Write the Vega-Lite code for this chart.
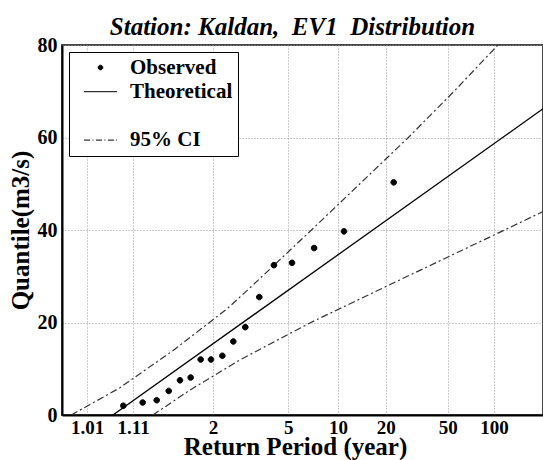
{
  "$schema": "https://vega.github.io/schema/vega-lite/v6.json",
  "autosize": {"type": "none"},
  "padding": {"left": 62, "top": 45, "right": 0, "bottom": 45},
  "width": 481,
  "height": 370,
  "background": "white",
  "title": {
    "text": "Station: Kaldan,\u00a0 EV1\u00a0 Distribution",
    "font": "Liberation Serif",
    "fontSize": 25,
    "fontWeight": "bold",
    "fontStyle": "italic",
    "color": "black",
    "anchor": "middle",
    "baseline": "bottom",
    "offset": 4,
    "dx": -10,
    "dy": 34
  },
  "config": {
    "view": {"stroke": "#444", "strokeWidth": 2},
    "axis": {
      "labelFont": "Liberation Serif",
      "labelFontWeight": "bold",
      "labelColor": "black",
      "titleFont": "Liberation Serif",
      "titleFontWeight": "bold",
      "titleColor": "black",
      "domainColor": "black",
      "domainWidth": 2,
      "ticks": false,
      "gridColor": "#999",
      "gridDash": [1, 2],
      "gridWidth": 1
    }
  },
  "data": {
    "values": [
      {"kind": "Observed", "rv": -0.985, "q": 2.0},
      {"kind": "Observed", "rv": -0.693, "q": 2.7},
      {"kind": "Observed", "rv": -0.482, "q": 3.2},
      {"kind": "Observed", "rv": -0.301, "q": 5.2},
      {"kind": "Observed", "rv": -0.131, "q": 7.5},
      {"kind": "Observed", "rv": 0.030, "q": 8.1},
      {"kind": "Observed", "rv": 0.181, "q": 12.0},
      {"kind": "Observed", "rv": 0.336, "q": 12.0},
      {"kind": "Observed", "rv": 0.507, "q": 12.8},
      {"kind": "Observed", "rv": 0.672, "q": 15.9},
      {"kind": "Observed", "rv": 0.853, "q": 19.0},
      {"kind": "Observed", "rv": 1.064, "q": 25.5},
      {"kind": "Observed", "rv": 1.285, "q": 32.4},
      {"kind": "Observed", "rv": 1.557, "q": 32.9},
      {"kind": "Observed", "rv": 1.890, "q": 36.1},
      {"kind": "Observed", "rv": 2.340, "q": 39.7},
      {"kind": "Observed", "rv": 3.089, "q": 50.3},
      {"kind": "Theoretical", "rv": -1.141, "q": 0},
      {"kind": "Theoretical", "rv": 5.339, "q": 66.2},
      {"kind": "Upper", "rv": -1.77, "q": 0},
      {"kind": "Upper", "rv": -1.035, "q": 5.9},
      {"kind": "Upper", "rv": -0.23, "q": 14.0},
      {"kind": "Upper", "rv": 0.573, "q": 22.9},
      {"kind": "Upper", "rv": 0.924, "q": 27.5},
      {"kind": "Upper", "rv": 1.85, "q": 40},
      {"kind": "Upper", "rv": 2.58, "q": 50},
      {"kind": "Upper", "rv": 3.31, "q": 60},
      {"kind": "Upper", "rv": 4.0, "q": 70.0},
      {"kind": "Upper", "rv": 4.66, "q": 80},
      {"kind": "Lower", "rv": -0.54, "q": 0},
      {"kind": "Lower", "rv": 0.02, "q": 5.4},
      {"kind": "Lower", "rv": 0.77, "q": 11.9},
      {"kind": "Lower", "rv": 1.84, "q": 20},
      {"kind": "Lower", "rv": 3.18, "q": 29.2},
      {"kind": "Lower", "rv": 4.76, "q": 40},
      {"kind": "Lower", "rv": 5.339, "q": 44}
    ]
  },
  "encoding": {
    "x": {
      "field": "rv",
      "type": "quantitative",
      "scale": {"domain": [-1.909, 5.339], "nice": false, "zero": false},
      "axis": {
        "values": [-1.5293, -0.8378, 0.3665, 1.4999, 2.2504, 2.9702, 3.9019, 4.6001],
        "labelExpr": "datum.value < -1 ? '1.01' : datum.value < 0 ? '1.11' : datum.value < 1 ? '2' : datum.value < 2 ? '5' : datum.value < 2.6 ? '10' : datum.value < 3.5 ? '20' : datum.value < 4.2 ? '50' : '100'",
        "labelFontSize": 19,
        "labelPadding": 3,
        "labelFlush": false,
        "labelOverlap": false,
        "title": "Return Period (year)",
        "titleFontSize": 25,
        "titleX": 233,
        "titleY": 39,
        "titleAlign": "center",
        "titleBaseline": "alphabetic"
      }
    },
    "y": {
      "field": "q",
      "type": "quantitative",
      "scale": {"domain": [0, 80], "nice": false},
      "axis": {
        "values": [0, 20, 40, 60, 80],
        "labelFontSize": 20,
        "labelPadding": 5,
        "labelFlush": false,
        "title": "Quantile(m3/s)",
        "titleFontSize": 25,
        "titlePadding": 4
      }
    }
  },
  "layer": [
    {
      "transform": [{"filter": "datum.kind === 'Upper' || datum.kind === 'Lower'"}],
      "mark": {"type": "line", "color": "#333", "strokeWidth": 1.2, "strokeDash": [7, 3, 2, 3], "clip": true},
      "encoding": {"detail": {"field": "kind", "type": "nominal"}}
    },
    {
      "transform": [{"filter": "datum.kind === 'Theoretical'"}],
      "mark": {"type": "line", "color": "black", "strokeWidth": 1.3, "clip": true},
      "encoding": {}
    },
    {
      "transform": [{"filter": "datum.kind === 'Observed'"}],
      "mark": {"type": "point", "filled": false, "fill": "black", "stroke": "black", "strokeWidth": 1, "opacity": 1, "size": 400},
      "encoding": {
        "shape": {
          "field": "kind",
          "type": "nominal",
          "scale": {
            "domain": ["Observed", "Theoretical", " ", "95% CI"],
            "range": [
              "M-0.28,0A0.28,0.28 0 1,0 0.28,0A0.28,0.28 0 1,0 -0.28,0Z",
              "M-2,0H2",
              "M0,0",
              "M-2,0H-1.27M-0.97,0H-0.85M-0.55,0H0.18M0.48,0H0.6M0.9,0H1.63M1.9,0H2"
            ]
          },
          "legend": {
            "title": null,
            "orient": "top-left",
            "offset": 7,
            "padding": 5,
            "strokeColor": "black",
            "fillColor": "white",
            "labelFont": "Liberation Serif",
            "labelFontSize": 21,
            "labelFontWeight": "bold",
            "labelColor": "black",
            "symbolSize": 272,
            "symbolStrokeWidth": 1,
            "symbolOffset": 16,
            "labelOffset": 19,
            "rowPadding": 2.2
          }
        }
      }
    }
  ]
}
